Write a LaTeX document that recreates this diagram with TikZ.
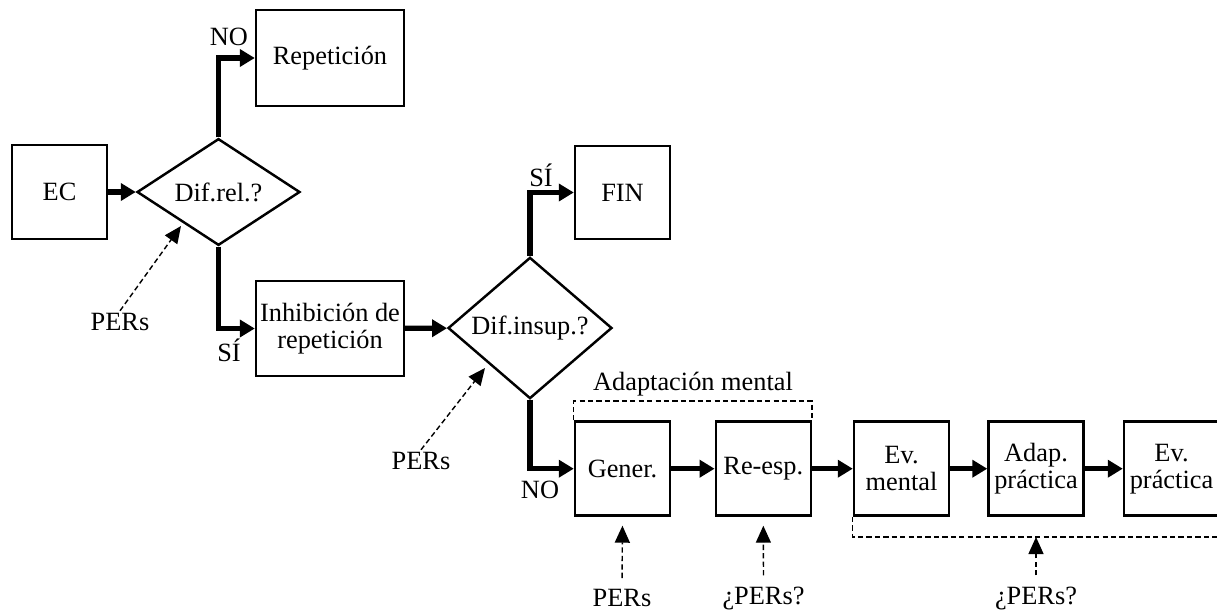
\documentclass[tikz,border=0pt]{standalone}
\usepackage{fontspec}
\setmainfont{Liberation Serif}
\usepackage{tikz}
\usetikzlibrary{shapes, arrows, arrows.meta, positioning, calc}

\begin{document}
\begin{tikzpicture}[x=0.02cm, y=-0.02cm, thick,
    font=\fontsize{15}{15.4}\selectfont,
    box/.style={draw, line width=1.4pt, inner sep=0pt, align=center, minimum width=1.9cm, minimum height=1.88cm},
    decision/.style={draw, diamond, line width=1.4pt, inner sep=0pt, minimum width=3.26cm, minimum height=2cm},
    flow/.style={line width=3pt, -{Triangle[length=0.3cm, width=0.34cm]}},
    pers/.style={line width=0.8pt, dash pattern=on 3pt off 1.8pt, -{Triangle[length=0.34cm, width=0.3cm]}},
    grp/.style={line width=0.8pt, dash pattern=on 3pt off 1.8pt},
    lbl/.style={inner sep=1pt}]
    \useasboundingbox (0,0) rectangle (1217,612);

    % Nodes
    \node (ec) [box] at (59.5,192) {EC};
    \node (difrel) [decision] at (218.5,192) {Dif.rel.?};
    \node (rep) [box, minimum width=2.96cm, minimum height=1.92cm] at (330,58) {Repetición};
    \node (inhib) [box, minimum width=2.96cm, minimum height=1.9cm] at (330,328.5) {Inhibición de\\repetición};
    \node (difinsup) [decision, minimum width=3.28cm] at (530,328) {Dif.insup.?};
    \node (fin) [box, minimum height=1.86cm] at (622.5,192.5) {FIN};
    \node (gener) [box] at (622.5,468.7) {Gener.};
    \node (reesp) [box] at (763.3,468.7) {Re-esp.};
    \node (evmental) [box] at (901.5,468.7) {Ev.\\mental};
    \node (adap) [box] at (1036,468.7) {Adap.\\práctica};
    \node (evprac) [box] at (1171.5,468.7) {Ev.\\práctica};

    % Labels
    \node (no1) [lbl] at (229,37) {NO};
    \node (si1) [lbl] at (229,350) {SÍ};
    \node (si2) [lbl] at (541,175) {SÍ};
    \node (no2) [lbl] at (540,490) {NO};
    \node (pers1) [lbl] at (120,322) {PERs};
    \node (pers2) [lbl] at (421,461) {PERs};
    \node (pers3) [lbl] at (622,598) {PERs};
    \node (pers4) [lbl] at (763.5,598) {¿PERs?};
    \node (pers5) [lbl] at (1036,598) {¿PERs?};
    \node (adapt) [lbl] at (693,384) {Adaptación mental};

    % Flow
    \draw [flow] (ec) -- (difrel);
    \draw [flow] (difrel.north) |- (rep.west);
    \draw [flow] (difrel.south) |- (inhib.west);
    \draw [flow] (inhib) -- (difinsup);
    \draw [flow] (difinsup.north) |- (fin.west);
    \draw [flow] (difinsup.south) |- (gener.west);
    \draw [flow] (gener) -- (reesp);
    \draw [flow] (reesp) -- (evmental);
    \draw [flow] (evmental) -- (adap);
    \draw [flow] (adap) -- (evprac);

    % Groups
    \coordinate (adtop) at (693,401);
    \coordinate (evbase) at (1036,537);
    \draw [grp] (gener.north west) |- (adtop) -| (reesp.north east);
    \draw [grp] (evmental.south west) |- (evbase) -| (evprac.south east);

    % PERs
    \coordinate (t1) at (181,226);
    \coordinate (t2) at (485,368);
    \draw [pers] (pers1.north) -- (t1);
    \draw [pers] (pers2.north) -- (t2);
    \draw [pers, shorten <=5pt, shorten >=5pt] (pers3.north) -- (gener.south);
    \draw [pers, shorten <=5pt, shorten >=5pt] (pers4.north) -- (reesp.south);
    \draw [pers, shorten <=5pt] (pers5.north) -- (evbase);
\end{tikzpicture}
\end{document}
